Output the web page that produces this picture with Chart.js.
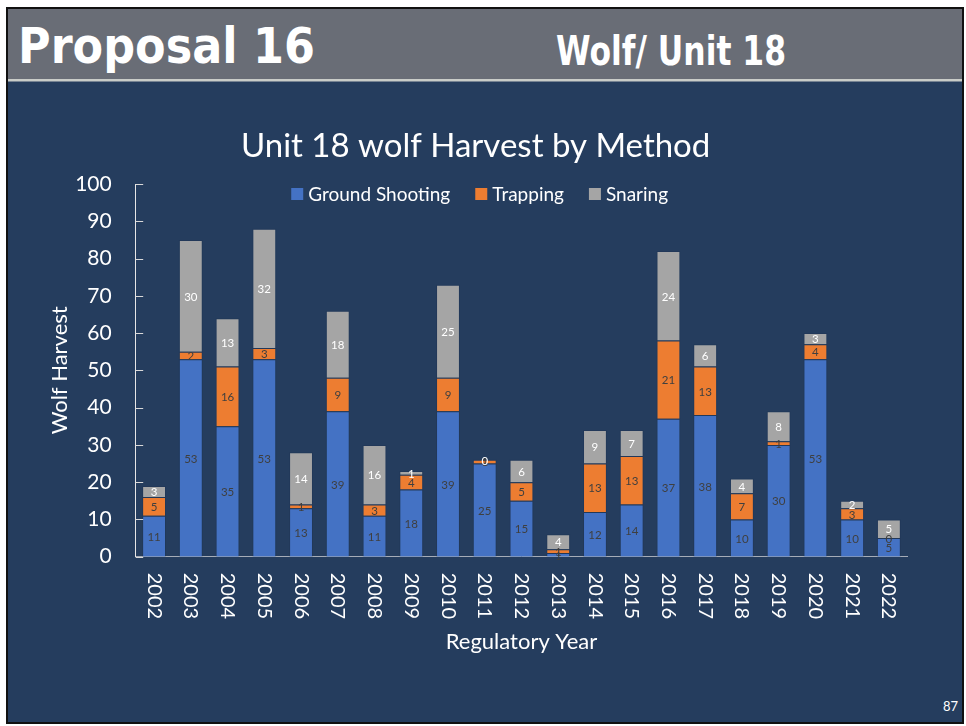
<!DOCTYPE html>
<html>
<head>
<meta charset="utf-8">
<script src="https://cdn.jsdelivr.net/npm/chart.js@4/dist/chart.umd.min.js"></script>
<style>
  html, body { margin: 0; padding: 0; background: #ffffff; }
  body { width: 966px; height: 726px; position: relative; overflow: hidden; }
  #frame { position: absolute; left: 6px; top: 7px; width: 958px; height: 717px;
           box-sizing: border-box; border: 2px solid #111; background: #253d5e; }
  #header { position: absolute; left: 0; top: 0; width: 966px; height: 90px; }
  #chart { position: absolute; left: 0; top: 0; }
</style>
</head>
<body>
<div id="frame"></div>
<svg id="header" width="966" height="90">
  <rect x="8" y="9" width="954" height="70" fill="#696d76"/>
  <rect x="8" y="79" width="954" height="2.5" fill="#c9ccc8"/>
  <text x="18" y="63" fill="#ffffff" font-family="DejaVu Sans" font-weight="bold" font-size="50"
        textLength="297" lengthAdjust="spacingAndGlyphs">Proposal 16</text>
  <text x="556" y="65" fill="#ffffff" font-family="DejaVu Sans" font-weight="bold" font-size="41"
        textLength="230" lengthAdjust="spacingAndGlyphs">Wolf/ Unit 18</text>
</svg>
<svg style="position:absolute;left:0;top:0" width="966" height="726">
  <text x="958" y="711" fill="#ffffff" font-family="Lato" font-size="13" text-anchor="end">87</text>
</svg>
<canvas id="chart" width="966" height="726"></canvas>
<script>
// Regulatory years
const years = ['2002','2003','2004','2005','2006','2007','2008','2009','2010','2011','2012',
               '2013','2014','2015','2016','2017','2018','2019','2020','2021','2022'];
// Wolves taken by each method
const groundShooting = [11,53,35,53,13,39,11,18,39,25,15,1,12,14,37,38,10,30,53,10,5];
const trapping       = [5,2,16,3,1,9,3,4,9,1,5,1,13,13,21,13,7,1,4,3,0];
const snaring        = [3,30,13,32,14,18,16,1,25,0,6,4,9,7,24,6,4,8,3,2,5];
const yTicks = [0,10,20,30,40,50,60,70,80,90,100];

const FONT = 'Lato';
const labelColors = ['#3f3f3f', '#3f3f3f', '#ffffff'];

// Segment values printed in the middle of each stacked piece
const segmentLabels = {
  id: 'segmentLabels',
  afterDatasetsDraw(chart) {
    const ctx = chart.ctx;
    ctx.save();
    ctx.font = '11.5px ' + FONT;
    ctx.textAlign = 'center';
    ctx.textBaseline = 'middle';
    chart.data.datasets.forEach((ds, i) => {
      const meta = chart.getDatasetMeta(i);
      meta.data.forEach((el, j) => {
        const p = el.getProps(['x', 'y', 'base'], true);
        ctx.fillStyle = labelColors[i];
        ctx.fillText(String(ds.data[j]), p.x, (p.y + p.base) / 2 + 1);
      });
    });
    ctx.restore();
  }
};

// Year labels turned to read downward, inward tick marks on the value axis, and the legend row
const axisExtras = {
  id: 'axisExtras',
  afterDraw(chart) {
    const ctx = chart.ctx;
    const xs = chart.scales.x, ys = chart.scales.y;
    const area = chart.chartArea;
    ctx.save();
    // inward ticks
    ctx.strokeStyle = '#d9d9d9';
    ctx.lineWidth = 1;
    yTicks.forEach(v => {
      const y = Math.round(ys.getPixelForValue(v)) + 0.5;
      ctx.beginPath();
      ctx.moveTo(area.left, y);
      ctx.lineTo(area.left + 7.5, y);
      ctx.stroke();
    });
    // rotated year labels
    ctx.fillStyle = '#ffffff';
    ctx.font = '20px ' + FONT;
    ctx.textAlign = 'left';
    ctx.textBaseline = 'middle';
    years.forEach((yr, i) => {
      const x = xs.getPixelForTick(i);
      ctx.save();
      ctx.translate(x, area.bottom + 16);
      ctx.rotate(Math.PI / 2);
      ctx.fillText(yr, 0, 0);
      ctx.restore();
    });
    // legend
    ctx.font = '19px ' + FONT;
    const box = 12, gapText = 5, gapItem = 25;
    const items = chart.data.datasets.map(ds => ({ text: ds.label, color: ds.backgroundColor,
      w: ctx.measureText(ds.label).width }));
    const total = items.reduce((s, it) => s + box + gapText + it.w, 0) + gapItem * (items.length - 1);
    const cx = (chart.titleBlock.left + chart.titleBlock.right) / 2 + 4;
    let x = cx - total / 2;
    const cy = area.top + 10;
    items.forEach(it => {
      ctx.fillStyle = it.color;
      ctx.fillRect(x, cy - box / 2, box, box);
      x += box + gapText;
      ctx.fillStyle = '#ffffff';
      ctx.fillText(it.text, x, cy + 1);
      x += it.w + gapItem;
    });
    ctx.restore();
  }
};

const segBorder = 'rgba(30,50,80,0.35)';

new Chart(document.getElementById('chart'), {
  type: 'bar',
  data: {
    labels: years,
    datasets: [
      { label: 'Ground Shooting', data: groundShooting, backgroundColor: '#4472c4',
        borderColor: segBorder, borderWidth: 1 },
      { label: 'Trapping', data: trapping, backgroundColor: '#ed7d31',
        borderColor: segBorder, borderWidth: 1 },
      { label: 'Snaring', data: snaring, backgroundColor: '#a5a5a5',
        borderColor: segBorder, borderWidth: 1 }
    ]
  },
  options: {
    responsive: false,
    animation: false,
    devicePixelRatio: 1,
    layout: { padding: { left: 44, right: 58.75, top: 127, bottom: 71 } },
    datasets: { bar: { categoryPercentage: 1, barPercentage: 0.65 } },
    plugins: {
      legend: { display: false },
      tooltip: { enabled: false },
      title: {
        display: true,
        text: 'Unit 18 wolf Harvest by Method',
        color: '#ffffff',
        font: { family: FONT, size: 33, weight: 'normal' },
        padding: { top: 0, bottom: 17.4 }
      }
    },
    scales: {
      x: {
        stacked: true,
        grid: { display: false },
        border: { display: true, color: '#a6adb8', width: 1 },
        ticks: { display: false },
        title: { display: true, text: 'Regulatory Year', color: '#ffffff',
                 font: { family: FONT, size: 22 }, padding: { top: 0, bottom: 0 } },
        afterFit(scale) { scale.height = 98.3; }
      },
      y: {
        stacked: true,
        min: 0, max: 100,
        afterBuildTicks(scale) { scale.ticks = yTicks.map(v => ({ value: v })); },
        grid: { display: false },
        border: { display: true, color: '#e6e6e6', width: 1 },
        ticks: { color: '#ffffff', font: { family: FONT, size: 21 }, padding: 16 },
        title: { display: true, text: 'Wolf Harvest', color: '#ffffff',
                 font: { family: FONT, size: 22 }, padding: { top: 3, bottom: 0 } },
        afterFit(scale) { scale.width = 91.7; }
      }
    }
  },
  plugins: [segmentLabels, axisExtras]
});
</script>
</body>
</html>
